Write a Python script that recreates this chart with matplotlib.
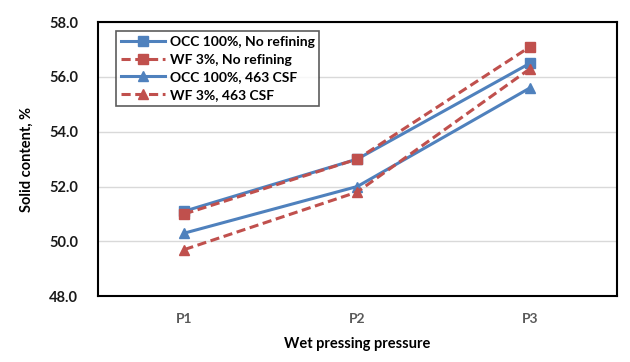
import matplotlib.pyplot as plt

plt.rcParams['font.family'] = ['Lato', 'DejaVu Sans']

pressures = ['P1', 'P2', 'P3']
occ_no_ref = [51.1, 53.0, 56.5]
wf_no_ref = [51.0, 53.0, 57.1]
occ_463 = [50.3, 52.0, 55.6]
wf_463 = [49.7, 51.8, 56.3]

blue = '#4F81BD'
red = '#C0504D'

fig = plt.figure(figsize=(6.3, 3.62), dpi=100)
ax = fig.add_axes([0.1556, 0.182, 0.823, 0.757])

x = range(len(pressures))
ax.plot(x, occ_no_ref, color=blue, lw=2.2, marker='s', ms=7, label='OCC 100%, No refining')
ax.plot(x, wf_no_ref, color=red, lw=2.2, ls=(0, (3, 1.5)), marker='s', ms=7, label='WF 3%, No refining')
ax.plot(x, occ_463, color=blue, lw=2.2, marker='^', ms=7, label='OCC 100%, 463 CSF')
ax.plot(x, wf_463, color=red, lw=2.2, ls=(0, (3, 1.5)), marker='^', ms=7, label='WF 3%, 463 CSF')

ax.set_xlim(-0.5, 2.5)
ax.set_ylim(48, 58)
yt = [48, 50, 52, 54, 56, 58]
ax.set_yticks(yt)
ax.set_yticklabels([f'{v:.1f}' for v in yt], fontsize=10.5, fontweight='bold', color='#1a1a1a')
ax.set_xticks(list(x))
ax.set_xticklabels(pressures, fontsize=10, fontweight='bold', color='#595959')
ax.tick_params(length=0)
ax.tick_params(axis='x', pad=12)
ax.tick_params(axis='y', pad=14.5)
ax.grid(axis='y', color='#D9D9D9', lw=1)
ax.set_axisbelow(True)
for s in ax.spines.values():
    s.set_linewidth(1.5)
    s.set_color('black')

ax.set_xlabel('Wet pressing pressure', fontsize=10.5, fontweight='bold', labelpad=9)
ax.set_ylabel('Solid content, %', fontsize=10.5, fontweight='bold', labelpad=11)

leg = ax.legend(loc='upper left', bbox_to_anchor=(0.035, 0.967), fontsize=10, frameon=True,
                fancybox=False, edgecolor='#333333', handlelength=3.2, borderpad=0.35,
                labelspacing=0.4, handletextpad=0.3, borderaxespad=0)
leg.get_frame().set_linewidth(1.2)
for t in leg.get_texts():
    t.set_fontweight('bold')

fig.savefig('out.png', dpi=100)
